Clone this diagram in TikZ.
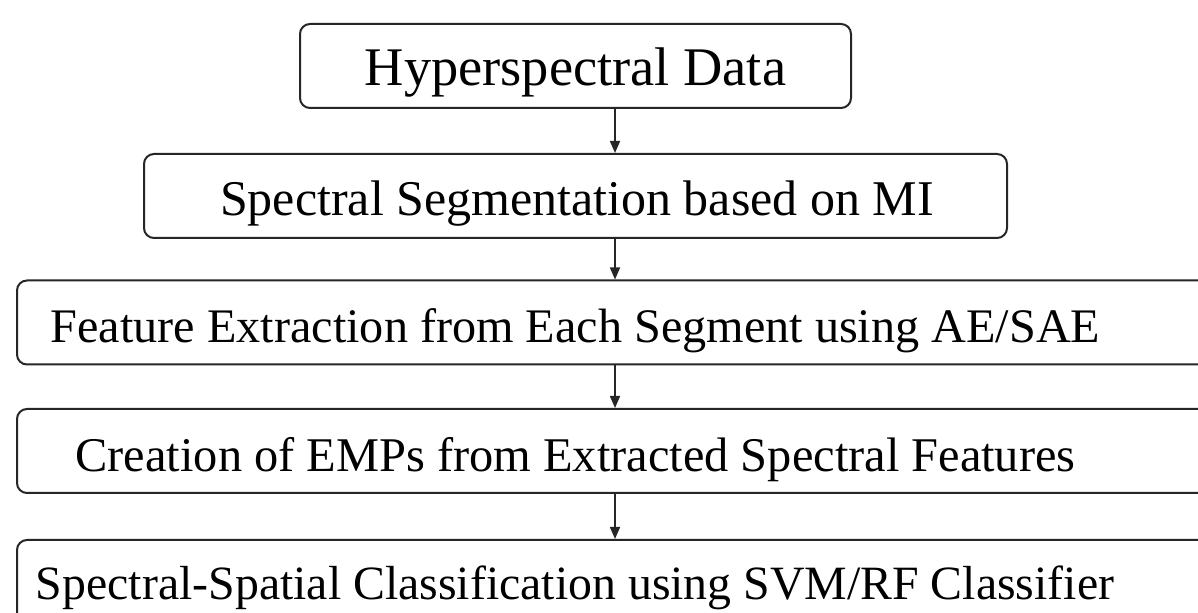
\documentclass[tikz,border=0pt]{standalone}
\usepackage{fontspec}
\setmainfont{Liberation Serif}
\usetikzlibrary{arrows.meta}
\begin{document}
\begin{tikzpicture}[x=0.5pt,y=-0.5pt,
  stepbox/.style={draw=black!85,line width=1pt,rounded corners=5pt,inner sep=0pt,minimum height=42pt},
  steptext/.style={anchor=base,inner sep=0pt},
  flow/.style={draw=black!85,line width=0.8pt,-{Triangle[length=6pt,width=5pt]}}]
\useasboundingbox (0,0) rectangle (1198,613);
\clip (0,0) rectangle (1198,613);
\fill[white] (0,0) rectangle (1198,613);
% boxes
\node[stepbox,minimum width=275.5pt] (b1) at (575.5,66) {};
\node[stepbox,minimum width=431.5pt] (b2) at (575.5,196) {};
\node[stepbox,minimum width=600pt] (b3) at (617,322.5) {};
\node[stepbox,minimum width=600pt] (b4) at (617,451) {};
\node[stepbox,minimum width=600pt] (b5) at (617,582) {};
% texts
\node[steptext,font=\fontsize{27.2pt}{32pt}\selectfont] (t1) at (575.5,86) {Hyperspectral Data};
\node[steptext,font=\fontsize{25pt}{30pt}\selectfont] (t2) at (577,216) {Spectral Segmentation based on MI};
\node[steptext,font=\fontsize{24.1pt}{29pt}\selectfont] (t3) at (575.5,343) {Feature Extraction from Each Segment using AE/SAE};
\node[steptext,font=\fontsize{24.2pt}{29pt}\selectfont] (t4) at (575.5,472) {Creation of EMPs from Extracted Spectral Features};
\node[steptext,font=\fontsize{23.9pt}{29pt}\selectfont] (t5) at (575,600) {Spectral-Spatial Classification using SVM/RF Classifier};
% arrows
\coordinate (ax) at (615,0);
\draw[flow] (b1.south -| ax) -- (b2.north -| ax);
\draw[flow] (b2.south -| ax) -- (b3.north -| ax);
\draw[flow] (b3.south -| ax) -- (b4.north -| ax);
\draw[flow] (b4.south -| ax) -- (b5.north -| ax);
\end{tikzpicture}
\end{document}
